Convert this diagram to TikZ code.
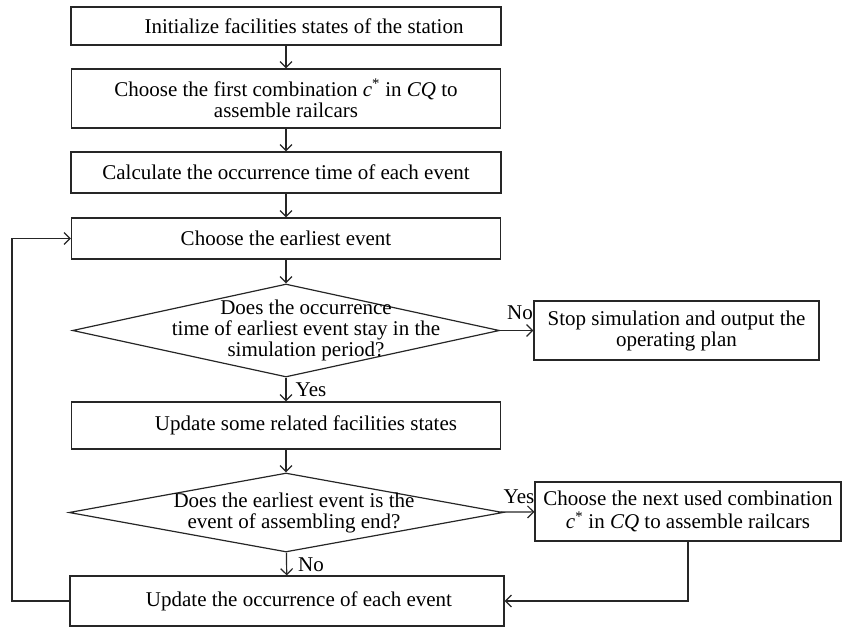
\documentclass[tikz,border=0pt]{standalone}
\usepackage{fontspec}
\setmainfont{Liberation Serif}
\usetikzlibrary{shapes.geometric, arrows.meta}

\begin{document}
\begin{tikzpicture}[x=1pt, y=-1pt,
  every node/.style={font=\fontsize{21}{21}\selectfont},
  procbox/.style={draw=black!85, line width=1.2pt, rectangle, align=center, inner sep=2pt},
  decision/.style={draw=black!85, line width=1.2pt, diamond, inner sep=0pt},
  branch/.style={inner sep=0pt},
  flow/.style={->, line width=1.2pt, black!85},
  >={Straight Barb[length=6pt, width=12pt]}]
\useasboundingbox (0,0) rectangle (842,629);

% Main column
\node[procbox, minimum width=430pt, minimum height=38pt] (init) at (286,26) {\hspace*{36pt}Initialize facilities states of the station};
\node[procbox, minimum width=429pt, minimum height=59pt] (first) at (286,98.5) {Choose the first combination \textit{c}\textsuperscript{*} in \textit{CQ} to\\assemble railcars};
\node[procbox, minimum width=430pt, minimum height=41pt] (calc) at (286,172.5) {Calculate the occurrence time of each event};
\node[procbox, minimum width=429pt, minimum height=41pt] (earliest) at (286,238.5) {Choose the earliest event};

% First test
\node[decision, minimum width=427pt, minimum height=93pt,
  label={[xshift=20pt, align=center]center:Does the occurrence\\time of earliest event stay in the\\simulation period?}] (d1) at (286,330.5) {};
\node[procbox, minimum width=285pt, minimum height=59pt] (stop) at (676.5,330.5) {Stop simulation and output the\\operating plan};
\node[procbox, minimum width=429pt, minimum height=47pt] (update) at (286,425.5) {\hspace*{40pt}Update some related facilities states};

% Second test
\node[decision, minimum width=434pt, minimum height=79pt,
  label={[xshift=8pt, align=center]center:Does the earliest event is the\\event of assembling end?}] (d2) at (286,512.5) {};
\node[procbox, minimum width=306pt, minimum height=59pt, font=\fontsize{21}{23.5}\selectfont] (next) at (688,511.5) {Choose the next used combination\\\textit{c}\textsuperscript{*} in \textit{CQ} to assemble railcars};
\node[procbox, minimum width=434pt, minimum height=50pt] (last) at (287,601) {\hspace*{24pt}Update the occurrence of each event};

% Branch labels
\node[branch] (no1) at (520,313) {No};
\node[branch] (yes1) at (311,390) {Yes};
\node[branch] (yes2) at (519,497) {Yes};
\node[branch] (no2) at (311,565) {No};

% Connectors
\draw[flow] (init) -- (first);
\draw[flow] (first) -- (calc);
\draw[flow] (calc) -- (earliest);
\draw[flow] (earliest) -- (d1);
\draw[flow] (d1) -- (stop);
\draw[flow] (d1) -- (update);
\draw[flow] (update) -- (d2);
\draw[flow] (d2) -- (next);
\draw[flow] (d2) -- (last);
\draw[flow] (next) |- (last);

% Loop back
\coordinate (back) at (12,603);
\draw[flow] (last.west) -- (last.west -| back) |- (earliest.west);
\end{tikzpicture}
\end{document}
